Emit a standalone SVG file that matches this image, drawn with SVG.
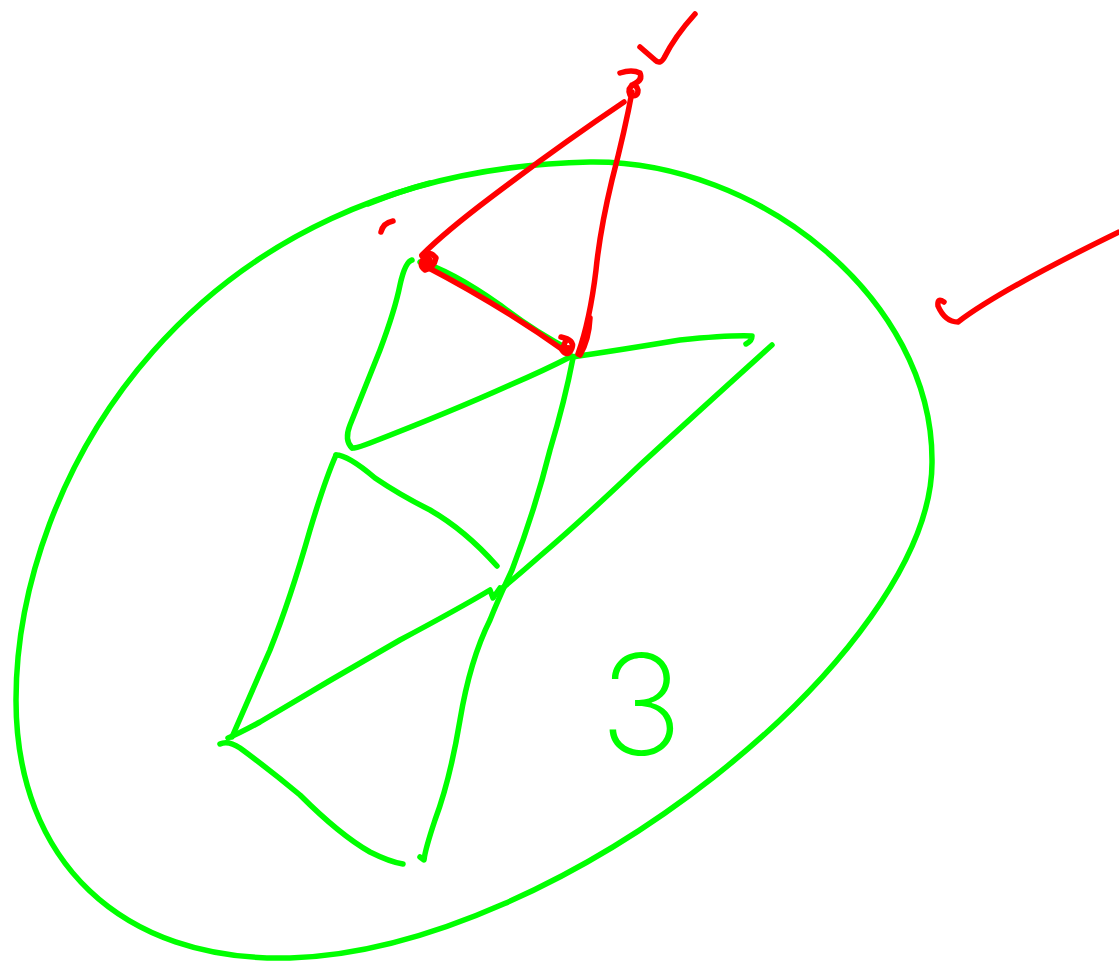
<svg xmlns="http://www.w3.org/2000/svg" width="1119" height="963" viewBox="0 0 1119 963">
<style>
.g{fill:none;stroke:#00ff00;stroke-width:5.5;stroke-linecap:round;stroke-linejoin:round}
.r{fill:none;stroke:#ff0000;stroke-width:5.5;stroke-linecap:round;stroke-linejoin:round}
.lbl{font-family:Inter,"Liberation Sans",sans-serif;font-weight:200;fill:#00ff00}
</style>
<rect width="1119" height="963" fill="#ffffff"/>
<g id="ellipse">
<path class="g" d="M590,162 C760,160 932,300 932,460 C935,650 560,950 290,958 C120,962 16,860 16,700 C16,480 190,170 590,162"/>
<path class="g" stroke-width="8" d="M368,204 Q400,191 430,183"/>
</g>
<g id="connectors">
<path class="g" d="M352,448 Q344,440 350,425 L380,350 Q395,310 400,285 Q405,262 412,260"/>
<path class="g" d="M420,262 Q450,270 500,305 Q535,332 570,350"/>
<path class="g" d="M354,448 Q360,447 370,443 Q450,412 510,385 Q545,370 572,356"/>
<path class="g" d="M572,357 Q620,350 680,340 Q730,335 752,336 Q752,341 746,344"/>
<path class="g" d="M772,345 Q700,410 640,465 Q580,522 540,556 Q515,578 500,590"/>
<path class="g" d="M573,358 Q565,400 550,450 Q535,510 512,570 Q498,600 490,620 Q470,660 460,720 Q450,780 435,820 Q425,850 424,860 L420,857"/>
<path class="g" d="M336,455 Q348,455 375,478 Q400,495 430,510 Q465,530 497,566"/>
<path class="g" d="M336,455 Q325,480 310,530 Q290,600 270,650 L232,737"/>
<path class="g" d="M228,738 Q240,733 260,722 Q330,680 400,640 Q460,608 490,590 L493,598 L500,588"/>
<path class="g" d="M220,744 Q228,740 240,748 Q270,770 300,795 Q340,835 370,852 Q390,862 403,864"/>
</g>
<g id="red-marks">
<path class="r" d="M640,47 L655,60 Q660,65 664,58 Q675,36 695,14"/>
<path class="r" d="M620,73 Q632,69 640,73 Q643,80 634,84 Q627,88 630,95 Q638,98 638,90 Q636,84 632,85"/>
<path class="r" d="M624,102 Q560,145 490,198 Q445,232 422,255"/>
<path class="r" d="M632,92 Q625,130 612,180 Q600,230 596,270 Q590,320 578,354"/>
<path class="r" d="M590,318 Q589,340 580,355"/>
<circle cx="427" cy="261" r="6" fill="#ff0000"/>
<path class="r" d="M424,258 Q418,265 425,270 Q434,268 436,258 Q430,250 422,256"/>
<path class="r" d="M425,266 Q500,305 566,352"/>
<path class="r" d="M561,337 Q575,340 572,348 Q568,358 562,350 L566,340"/>
<circle cx="568" cy="350" r="5" fill="#ff0000"/>
<path class="r" d="M393,221 Q383,223 381,232"/>
<path class="r" d="M944,302 Q937,297 938,306 Q945,322 958,322 Q1000,290 1119,232"/>
</g>
<g id="label">
<text class="lbl" x="641" y="755" font-size="140" text-anchor="middle">3</text>
</g>
</svg>
